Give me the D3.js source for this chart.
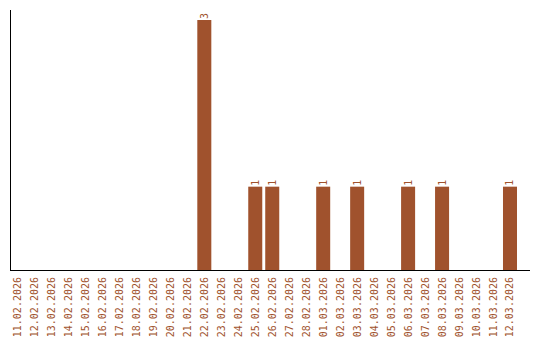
<!DOCTYPE html>
<html>
<head>
<meta charset="utf-8">
<script src="https://cdn.jsdelivr.net/npm/d3@7"></script>
<style>
  html, body { margin: 0; padding: 0; background: #fff; }
  svg { display: block; }
  text { font-family: "DejaVu Sans Mono", monospace; font-size: 10px; fill: #a0522d; }
</style>
</head>
<body>
<svg id="chart" width="540" height="340"></svg>
<script>
const categories = [
  "11.02.2026","12.02.2026","13.02.2026","14.02.2026","15.02.2026","16.02.2026",
  "17.02.2026","18.02.2026","19.02.2026","20.02.2026","21.02.2026","22.02.2026",
  "23.02.2026","24.02.2026","25.02.2026","26.02.2026","27.02.2026","28.02.2026",
  "01.03.2026","02.03.2026","03.03.2026","04.03.2026","05.03.2026","06.03.2026",
  "07.03.2026","08.03.2026","09.03.2026","10.03.2026","11.03.2026","12.03.2026"
];
const values = [
  0,0,0,0,0,0,
  0,0,0,0,0,3,
  0,0,1,1,0,0,
  1,0,1,0,0,1,
  0,1,0,0,0,1
];

const svg = d3.select("#chart");
const color = "#a0522d";

const x = d3.scaleBand()
  .domain(categories)
  .range([10.5, 517])
  .paddingInner(0.175)
  .paddingOuter(0);

const y = d3.scaleLinear()
  .domain([0, d3.max(values)])
  .range([270, 20]);

const data = categories.map((c, i) => ({ c, v: values[i] }));

// bars
svg.append("g").selectAll("rect")
  .data(data.filter(d => d.v > 0))
  .join("rect")
  .attr("x", d => x(d.c))
  .attr("y", d => y(d.v))
  .attr("width", x.bandwidth())
  .attr("height", d => y(0) - y(d.v))
  .attr("fill", color);

// value labels
svg.append("g").selectAll("text")
  .data(data.filter(d => d.v > 0))
  .join("text")
  .attr("transform", d => `translate(${x(d.c) + x.bandwidth() / 2},${y(d.v) - 1}) rotate(-90)`)
  .attr("dy", "0.35em")
  .attr("text-anchor", "start")
  .text(d => d.v);

// category labels
svg.append("g").selectAll("text")
  .data(data)
  .join("text")
  .attr("transform", d => `translate(${x(d.c) + x.bandwidth() / 2},277) rotate(-90)`)
  .attr("dy", "0.35em")
  .attr("text-anchor", "end")
  .text(d => d.c);

// axes lines
svg.append("line")
  .attr("x1", 10.5).attr("x2", 10.5)
  .attr("y1", 10).attr("y2", 270.5)
  .attr("stroke", "#000").attr("stroke-width", 1);
svg.append("line")
  .attr("x1", 10).attr("x2", 530)
  .attr("y1", 270.5).attr("y2", 270.5)
  .attr("stroke", "#000").attr("stroke-width", 1);
</script>
</body>
</html>
